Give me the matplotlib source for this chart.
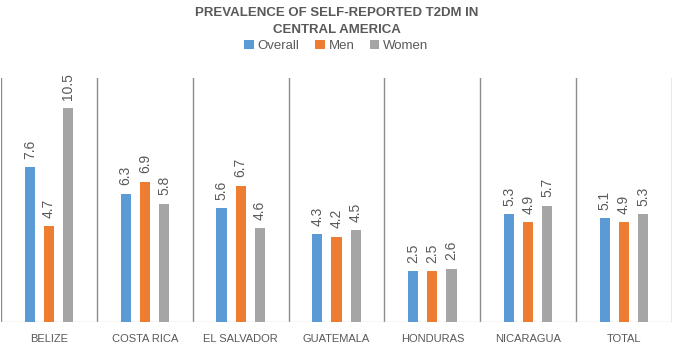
import numpy as np
import matplotlib.pyplot as plt

plt.rcParams['font.family'] = ['Liberation Sans', 'DejaVu Sans']

countries = ["BELIZE", "COSTA RICA", "EL SALVADOR", "GUATEMALA", "HONDURAS", "NICARAGUA", "TOTAL"]
overall = [7.6, 6.3, 5.6, 4.3, 2.5, 5.3, 5.1]
men = [4.7, 6.9, 6.7, 4.2, 2.5, 4.9, 4.9]
women = [10.5, 5.8, 4.6, 4.5, 2.6, 5.7, 5.3]

series = [("Overall", overall, "#5B9BD5"), ("Men", men, "#ED7D31"), ("Women", women, "#A5A5A5")]
text_gray = "#595959"

fig = plt.figure(figsize=(6.73, 3.45), dpi=100)
ax = fig.add_axes([0.0015, 0.067, 0.997, 0.707])

x = np.arange(len(countries))
width = 0.105
for i, (name, vals, col) in enumerate(series):
    pos = x + (i - 1) * 0.2
    ax.bar(pos, vals, width, color=col, label=name, zorder=3)
    for px, v in zip(pos, vals):
        ax.text(px, v + 0.42, f"{v}", rotation=90, ha="center", va="bottom",
                fontsize=10, color=text_gray)

ax.set_xlim(-0.5, len(countries) - 0.5)
ax.set_ylim(0, 12)
for sep in np.arange(-0.5, len(countries), 1.0):
    ax.axvline(sep, color="#8C8C8C", lw=1, zorder=2)
ax.axhline(0, color="#D9D9D9", lw=1, zorder=2)

for s in ax.spines.values():
    s.set_visible(False)
ax.set_yticks([])
ax.set_xticks(x)
ax.set_xticklabels(countries, fontsize=8, color=text_gray)
ax.tick_params(axis="x", length=0, pad=9)

fig.text(0.5, 0.937, "PREVALENCE OF SELF-REPORTED T2DM IN\nCENTRAL AMERICA", ha="center", va="center",
         fontsize=9.5, fontweight="bold", color=text_gray, linespacing=1.55)
fig.legend(loc="center", bbox_to_anchor=(0.5, 0.866), ncol=3, frameon=False,
           fontsize=9.5, handlelength=0.7, handleheight=0.7, handletextpad=0.3,
           columnspacing=1.2, labelcolor=text_gray)

fig.savefig("out.png", dpi=100)
